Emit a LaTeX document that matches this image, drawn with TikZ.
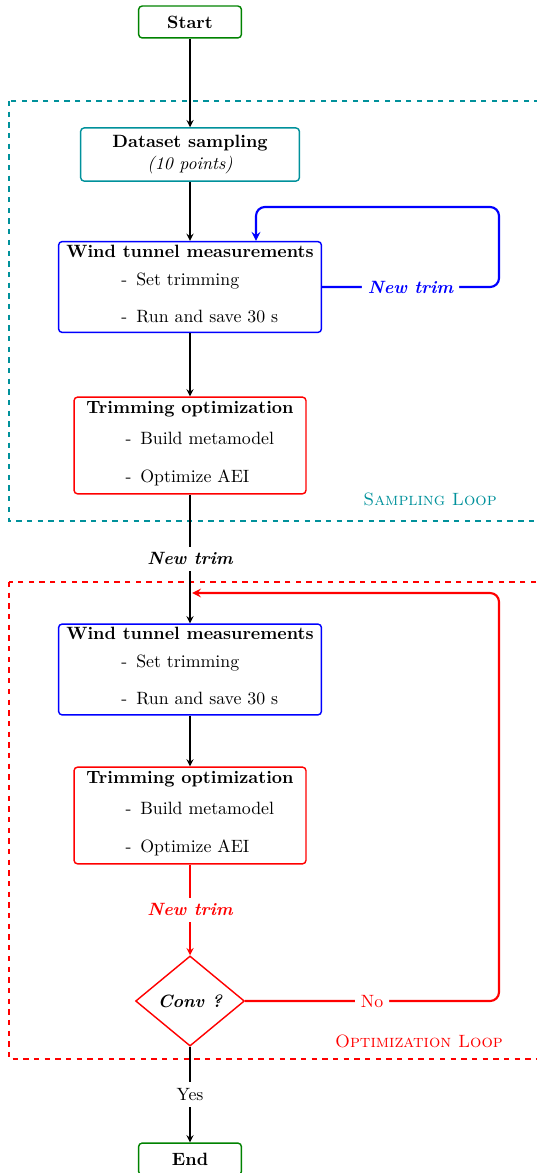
\documentclass[tikz,border=0pt]{standalone}
\usetikzlibrary{shapes.geometric}
\definecolor{loopteal}{RGB}{0,145,155}
\definecolor{startgreen}{RGB}{0,130,0}

\begin{document}
\begin{tikzpicture}[
            box/.style={draw, thick, rounded corners=2pt, align=center, inner sep=2pt},
            trimlabel/.style={fill=white, font=\bfseries\itshape},
            flow/.style={thick, -stealth},
            loopline/.style={very thick, -stealth, rounded corners=5pt}
        ]
            \useasboundingbox (-3.752,0) rectangle (6.832,-23.161);

            \draw[loopteal, very thick, dashed] (-3.574,-1.994) rectangle (7.5,-10.287);
            \draw[red, very thick, dashed] (-3.574,-11.492) rectangle (7.5,-20.910);

            \node[loopteal, anchor=east] (samplingname) at (6.180,-9.853) {\textsc{Sampling Loop}};
            \node[red, anchor=east] (optname) at (6.300,-20.555) {\textsc{Optimization Loop}};

            \node[box, draw=startgreen, minimum width=2.03cm, minimum height=0.63cm] (start) at (0,-0.434) {\textbf{Start}};
            \node[box, draw=loopteal, minimum width=4.32cm, minimum height=1.05cm] (data) at (0,-3.051)
                {\textbf{Dataset sampling}\\\textit{(10 points)}};
            \node[box, draw=blue, minimum width=5.19cm, minimum height=1.78cm] (wind1) at (0,-5.667)
                {\textbf{Wind tunnel measurements}\\[3.7pt]\hspace*{11pt}\begin{tabular}[t]{@{}l@{}}-\enspace Set trimming\\[8.8pt]-\enspace Run and save 30 s\end{tabular}};
            \node[box, draw=red, minimum width=4.58cm, minimum height=1.91cm] (trim1) at (0,-8.796)
                {\textbf{Trimming optimization}\\[5.4pt]\hspace*{11pt}\begin{tabular}[t]{@{}l@{}}-\enspace Build metamodel\\[9.3pt]-\enspace Optimize AEI\end{tabular}};
            \node[box, draw=blue, minimum width=5.19cm, minimum height=1.78cm] (wind2) at (0,-13.219)
                {\textbf{Wind tunnel measurements}\\[3.7pt]\hspace*{11pt}\begin{tabular}[t]{@{}l@{}}-\enspace Set trimming\\[8.8pt]-\enspace Run and save 30 s\end{tabular}};
            \node[box, draw=red, minimum width=4.58cm, minimum height=1.91cm] (trim2) at (0,-16.102)
                {\textbf{Trimming optimization}\\[5.4pt]\hspace*{11pt}\begin{tabular}[t]{@{}l@{}}-\enspace Build metamodel\\[9.3pt]-\enspace Optimize AEI\end{tabular}};
            \node[draw=red, thick, diamond, minimum width=2.15cm, minimum height=1.78cm, inner sep=0pt,
                font=\bfseries\itshape] (conv) at (0,-19.765) {Conv ?};
            \node[box, draw=startgreen, minimum width=2.03cm, minimum height=0.63cm] (end) at (0,-22.885) {\textbf{End}};

            \draw[flow] (start) -- (data);
            \draw[flow] (data) -- (wind1);
            \draw[flow] (wind1) -- (trim1);
            \draw[flow] (trim1) -- node[trimlabel] {New trim} (wind2);
            \draw[flow] (wind2) -- (trim2);
            \draw[flow, red] (trim2) -- node[trimlabel, text=red] {New trim} (conv);
            \draw[flow] (conv) -- node[fill=white] {Yes} (end);

            \coordinate (bluecorner) at (6.101,-4.087);
            \coordinate (blueentry) at (1.303,-4.087);
            \draw[loopline, blue] (wind1.east) -- node[trimlabel, text=blue] {New trim} (wind1.east -| bluecorner)
                -- (bluecorner) -- (blueentry) -- (blueentry |- wind1.north);

            \coordinate (redcorner) at (6.101,-11.709);
            \coordinate (redjoin) at (0.04,-11.709);
            \draw[loopline, red] (conv.east) -- node[fill=white] {No} (conv.east -| redcorner)
                -- (redcorner) -- (redjoin);
        \end{tikzpicture}
\end{document}
